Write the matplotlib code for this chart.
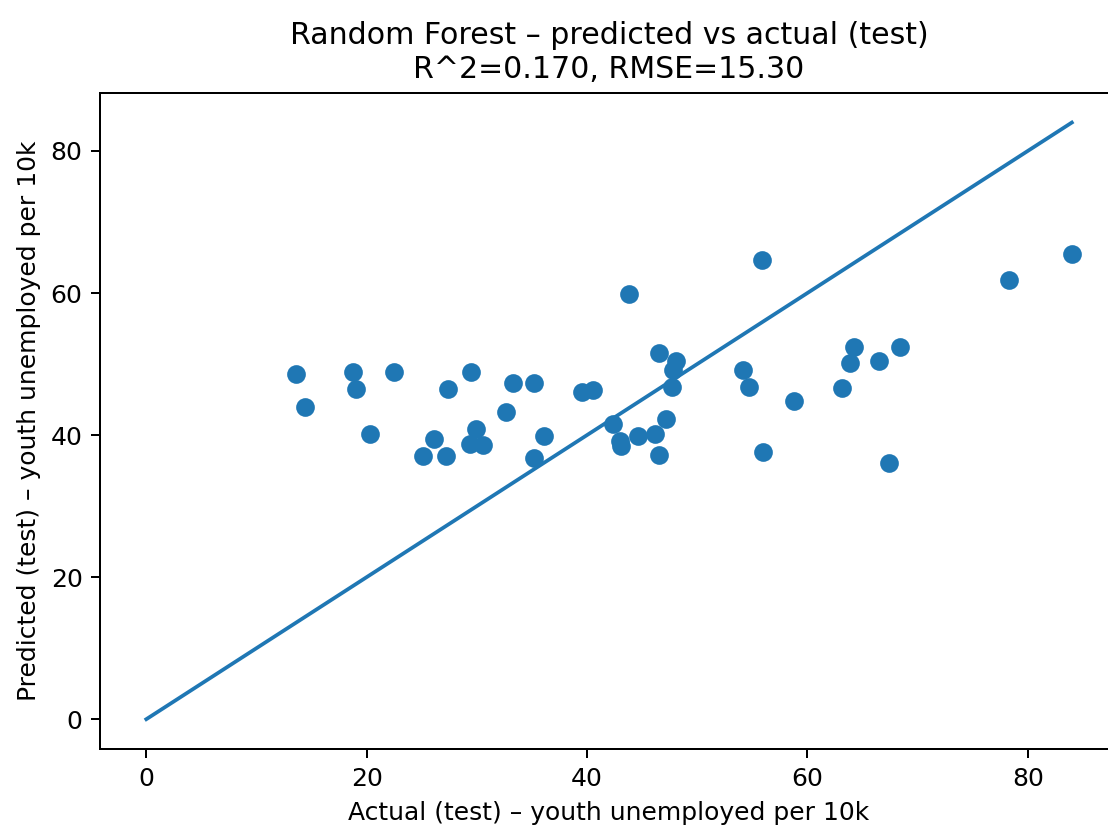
import numpy as np
import matplotlib
matplotlib.use("Agg")
import matplotlib.pyplot as plt

# Test-set targets and random forest predictions (youth unemployed per 10k)
actual = np.array([
    13.6, 14.4, 18.8, 19.0, 20.3, 22.5, 25.1, 26.1, 27.2, 27.4,
    29.5, 29.9, 29.4, 30.6, 32.6, 33.3, 35.2, 35.2, 36.1,
    43.8, 39.5, 40.5, 42.4, 43.0, 43.1, 44.6, 46.2, 47.2, 46.5,
    46.5, 48.1, 47.8, 47.7, 54.2, 54.7, 56.0, 58.8, 63.1, 63.9,
    64.2, 66.5, 55.9, 78.3, 84.0, 68.4, 67.4,
])
predicted = np.array([
    48.6, 44.0, 48.9, 46.5, 40.2, 48.9, 37.1, 39.4, 37.1, 46.5,
    48.9, 40.8, 38.8, 38.6, 43.2, 47.3, 47.3, 36.8, 39.9,
    59.8, 46.1, 46.3, 41.5, 39.1, 38.4, 39.9, 40.2, 42.2, 37.2,
    51.5, 50.4, 49.2, 46.8, 49.1, 46.8, 37.6, 44.8, 46.6, 50.1,
    52.4, 50.4, 64.7, 61.9, 65.5, 52.4, 36.1,
])
r2 = 0.170
rmse = 15.30

dpi = 180
fig = plt.figure(figsize=(1108 / dpi, 825 / dpi), dpi=dpi)
ax = fig.add_axes([0.0903, 0.0921, 0.9188, 0.7955])

ax.scatter(actual, predicted, s=42)
lim = max(actual.max(), predicted.max())
ax.plot([0, lim], [0, lim])

ax.set_xlabel("Actual (test) – youth unemployed per 10k")
ax.set_ylabel("Predicted (test) – youth unemployed per 10k")
ax.set_title(f"Random Forest – predicted vs actual (test)\nR^2={r2:.3f}, RMSE={rmse:.2f}")

fig.savefig("out.png", dpi=dpi)
